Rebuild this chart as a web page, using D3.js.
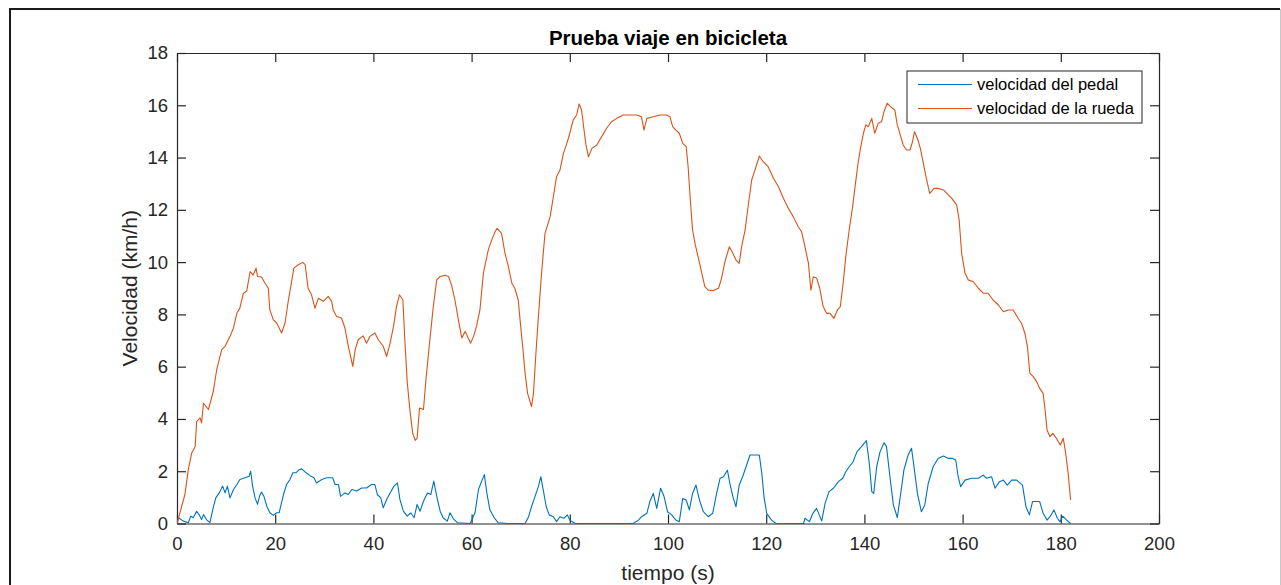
<!DOCTYPE html>
<html>
<head>
<meta charset="utf-8">
<script src="https://cdn.jsdelivr.net/npm/d3@7"></script>
<style>
  body { margin: 0; background: #fff; }
  svg { display: block; font-family: "Liberation Sans", Arial, sans-serif; }
</style>
</head>
<body>
<div id="chart"></div>
<script>
// Prueba viaje en bicicleta: pedal and wheel speed over time

// Series names and colours
const seriesNames = ["velocidad del pedal", "velocidad de la rueda"];
const seriesColors = ["#0072BD", "#D95319"];

// Axis ticks
const xTicks = [0, 20, 40, 60, 80, 100, 120, 140, 160, 180, 200];
const yTicks = [0, 2, 4, 6, 8, 10, 12, 14, 16, 18];

// Wheel speed (km/h): [time s, value]
const rueda = [
  [0, 0], [1.6, 1.1], [2.3, 2.06], [3, 2.7], [3.7, 2.95], [4, 3.9], [4.7, 4.04], [5, 3.85],
  [5.4, 4.6], [6.4, 4.36], [7.4, 5.06], [8.1, 5.9], [9.1, 6.65], [9.8, 6.78], [10.8, 7.16],
  [11.5, 7.48], [12.2, 8.05], [12.8, 8.24], [13.5, 8.8], [14.2, 8.9], [14.9, 9.64], [15.5, 9.5],
  [16.1, 9.77], [16.4, 9.45], [17.2, 9.43], [17.9, 9.2], [18.6, 9.0], [18.9, 8.18], [19.6, 7.8],
  [20.3, 7.67], [21.3, 7.29], [22, 7.67], [22.7, 8.56], [23.4, 9.32], [23.8, 9.77], [24.7, 9.9],
  [25.6, 9.99], [26.1, 9.9], [26.7, 9.0], [27.4, 8.75], [28.1, 8.24], [28.8, 8.62], [29.8, 8.5],
  [30.8, 8.69], [31.5, 8.5], [31.8, 8.18], [32.5, 7.92], [33.5, 7.86], [34.2, 7.48], [34.9, 6.78],
  [35.8, 6.01], [36.3, 6.65], [36.9, 7.03], [37.9, 7.18], [38.6, 6.9], [39.3, 7.16], [40.3, 7.29],
  [41, 7.03], [42, 6.78], [42.7, 6.39], [43.4, 6.9], [44.1, 7.54], [44.7, 8.3], [45.3, 8.75],
  [46, 8.56], [46.4, 7.03], [46.9, 5.38], [47.5, 4.23], [48, 3.46], [48.5, 3.18], [48.9, 3.27],
  [49.4, 4.42], [50.2, 4.36], [50.7, 5.5], [51.5, 7.03], [52.2, 8.3], [52.9, 9.32], [53.6, 9.45],
  [54.6, 9.5], [55.3, 9.45], [55.9, 9.13], [56.6, 8.56], [57.3, 7.8], [58, 7.1], [58.7, 7.35],
  [59.3, 7.1], [59.8, 6.9], [60.4, 7.16], [61, 7.54], [61.7, 8.18], [62.4, 9.58], [63.4, 10.47],
  [64.1, 10.85], [64.8, 11.17], [65.2, 11.29], [66.1, 11.1], [66.8, 10.33], [67.5, 9.83],
  [68.2, 9.19], [68.8, 9.0], [69.5, 8.55], [70, 7.53], [70.4, 6.77], [70.9, 5.74], [71.4, 4.98],
  [71.9, 4.66], [72.2, 4.47], [72.6, 4.98], [73.1, 6.51], [73.6, 7.91], [74.3, 9.7], [74.95, 11.1],
  [76, 11.74], [76.65, 12.5], [77.3, 13.27], [78, 13.52], [78.7, 14.16], [79.4, 14.54], [80, 14.93],
  [80.7, 15.44], [81.4, 15.63], [81.9, 16.05], [82.4, 15.82], [82.9, 15.05], [83.3, 14.48],
  [83.8, 14.03], [84.5, 14.35], [85.5, 14.48], [86.5, 14.8], [87.5, 15.12], [88.5, 15.37],
  [89.55, 15.5], [90.9, 15.63], [92.3, 15.63], [93.6, 15.63], [94.6, 15.56], [95.1, 15.05],
  [95.7, 15.5], [97, 15.56], [98.4, 15.63], [99.7, 15.63], [100.4, 15.56], [100.95, 15.18],
  [101.6, 15.05], [102.3, 14.93], [103, 14.54], [103.7, 14.42], [104.1, 13.65], [104.5, 12.5],
  [105, 11.23], [105.5, 10.72], [106.2, 10.14], [106.9, 9.57], [107.5, 9.06], [108.2, 8.93],
  [109.2, 8.91], [110.3, 9.0], [110.9, 9.38], [111.6, 10.02], [112.1, 10.34], [112.5, 10.59],
  [113.2, 10.34], [113.85, 10.08], [114.5, 9.95], [115, 10.59], [115.7, 11.23], [116.4, 12.25],
  [117.05, 13.14], [117.7, 13.52], [118.6, 14.06], [119.4, 13.84], [120.4, 13.65], [121.5, 13.2],
  [122.5, 12.88], [123.5, 12.44], [124.5, 12.06], [125.5, 11.74], [126.5, 11.36], [127.2, 11.16],
  [127.9, 10.59], [128.6, 9.95], [129.1, 8.93], [129.6, 9.44], [130.3, 9.38], [130.9, 9.0],
  [131.6, 8.3], [132.3, 8.04], [133, 8.04], [133.8, 7.85], [134.5, 8.17], [135.1, 8.3],
  [135.7, 9.25], [136.2, 10.2], [136.9, 11.23], [137.6, 12.12], [138.1, 12.89], [138.7, 13.78],
  [139.2, 14.35], [139.8, 14.93], [140.3, 15.25], [140.8, 15.18], [141.5, 15.5], [142.1, 14.93],
  [142.8, 15.31], [143.5, 15.37], [144, 15.76], [144.65, 16.08], [145.3, 15.95], [146.2, 15.82],
  [146.7, 15.25], [147.4, 14.8], [147.9, 14.48], [148.6, 14.29], [149.3, 14.29], [149.8, 14.61],
  [150.2, 14.99], [150.8, 14.73], [151.4, 14.35], [152, 13.78], [152.7, 13.14], [153.3, 12.63],
  [154.2, 12.82], [155, 12.82], [156.1, 12.76], [157.1, 12.57], [157.8, 12.44], [158.8, 12.18],
  [159.3, 11.61], [159.8, 10.34], [160.5, 9.57], [161.15, 9.32], [162.2, 9.25], [163.2, 9.0],
  [164.2, 8.81], [165.2, 8.81], [166.2, 8.55], [167.3, 8.36], [168.3, 8.1], [169.3, 8.17],
  [170.3, 8.17], [171.3, 7.85], [172, 7.66], [172.7, 7.27], [173.2, 6.77], [173.7, 5.74],
  [174.4, 5.62], [175.1, 5.42], [175.7, 5.17], [176.4, 4.98], [176.8, 4.34], [177.2, 3.58],
  [177.8, 3.32], [178.4, 3.45], [179.1, 3.26], [179.9, 3.0], [180.5, 3.26], [181, 2.68],
  [181.5, 1.92], [182, 0.9]
];

// Pedal speed (km/h): [time s, value]
const pedal = [
  [0, 0], [0.3, 0.22], [1.3, 0.09], [2.3, 0.03], [2.8, 0.28], [3.3, 0.22], [4, 0.47], [4.5, 0.34],
  [5, 0.15], [5.4, 0.34], [6, 0.15], [6.7, 0.03], [7.3, 0.54], [7.9, 0.98], [8.6, 1.17], [9.3, 1.43],
  [9.8, 1.17], [10.25, 1.43], [10.8, 0.98], [11.5, 1.3], [12.2, 1.49], [12.8, 1.68], [13.85, 1.75],
  [14.7, 1.81], [15, 2.0], [15.4, 1.43], [15.9, 0.98], [16.4, 0.73], [16.8, 1.04], [17.2, 1.2],
  [17.7, 1.04], [18.3, 0.66], [18.9, 0.41], [19.6, 0.31], [20.3, 0.41], [20.8, 0.41], [21.7, 1.11],
  [22.3, 1.49], [23, 1.68], [23.6, 1.94], [24.2, 1.94], [24.9, 2.06], [25.4, 2.09], [26.3, 1.94],
  [27.1, 1.83], [27.9, 1.75], [28.4, 1.55], [29.5, 1.68], [30.5, 1.75], [31.7, 1.75], [32.2, 1.49],
  [32.9, 1.49], [33.3, 1.04], [34.2, 1.17], [34.9, 1.11], [35.6, 1.3], [36.6, 1.24], [37.6, 1.36],
  [38.6, 1.36], [39.6, 1.49], [40.3, 1.49], [40.8, 1.11], [41.5, 0.98], [42, 0.6], [42.7, 0.92],
  [43.4, 1.17], [44.2, 1.43], [44.9, 1.55], [45.4, 0.92], [46.1, 0.47], [46.9, 0.28], [47.6, 0.41],
  [48.3, 0.22], [48.9, 0.73], [49.5, 0.47], [50.2, 0.85], [51, 1.17], [51.7, 1.11], [52.3, 1.62],
  [52.9, 1.04], [53.6, 0.47], [54.2, 0.22], [55.05, 0.09], [55.6, 0.41], [56.3, 0.18], [57.1, 0.03],
  [59.7, 0], [60.7, 0.41], [61.4, 1.3], [62.05, 1.62], [62.6, 1.87], [63.1, 1.17], [63.7, 0.54],
  [64.6, 0.22], [65.4, 0.03], [67.5, 0], [70.9, 0], [71.6, 0.26], [72.2, 0.64], [72.9, 1.03],
  [73.6, 1.41], [74.1, 1.79], [74.6, 1.28], [75.2, 0.64], [75.8, 0.33], [76.65, 0.26], [77.3, 0.07],
  [78, 0.26], [78.8, 0.2], [79.5, 0.33], [80, 0.13], [81.1, 0], [92.9, 0], [94, 0.13], [94.6, 0.26],
  [95.7, 0.39], [96.3, 0.84], [97, 1.15], [97.7, 0.58], [98.5, 1.35], [99.2, 1.03], [99.9, 0.45],
  [100.75, 0.33], [101.6, 0.13], [102.3, 0.07], [103, 0.96], [103.7, 0.9], [104.35, 0.52], [105, 1.15],
  [105.7, 1.47], [106.4, 0.9], [107.2, 0.45], [108.2, 0.26], [109.1, 0.39], [109.9, 1.15],
  [110.6, 1.73], [111.3, 1.79], [112.1, 2.04], [112.6, 1.53], [113.3, 0.96], [113.85, 0.64],
  [114.5, 1.47], [115.2, 1.79], [115.9, 2.17], [116.7, 2.62], [117.7, 2.62], [118.6, 2.62],
  [119.1, 1.92], [119.55, 1.03], [120.1, 0.39], [121.1, 0.13], [122, 0], [127.6, 0], [127.9, 0.2],
  [128.8, 0.07], [129.5, 0.39], [130.25, 0.58], [131.3, 0.1], [132, 0.77], [132.8, 1.22],
  [133.7, 1.35], [134.7, 1.6], [135.6, 1.73], [136.2, 1.98], [136.9, 2.17], [137.7, 2.36],
  [138.5, 2.75], [139.4, 2.94], [140.4, 3.17], [141, 2.3], [141.5, 1.22], [141.9, 1.15], [142.5, 2.17],
  [143.2, 2.75], [144, 3.09], [144.5, 2.94], [145.2, 1.79], [145.9, 0.71], [146.7, 0.23], [147.4, 1.15],
  [148.05, 2.05], [148.9, 2.62], [149.6, 2.88], [150.1, 2.17], [150.8, 1.15], [151.6, 0.45],
  [152.3, 0.71], [153, 1.53], [154, 2.17], [155, 2.49], [156.1, 2.58], [157.1, 2.49], [158, 2.49],
  [158.6, 2.43], [159.1, 1.79], [159.6, 1.41], [160.5, 1.66], [161.8, 1.73], [163.2, 1.73],
  [164.2, 1.85], [164.9, 1.73], [165.9, 1.79], [166.6, 1.35], [167.5, 1.6], [168.3, 1.66],
  [169.1, 1.47], [170, 1.66], [171, 1.66], [172.2, 1.47], [172.9, 0.64], [173.6, 0.33], [174.25, 0.84],
  [175.7, 0.84], [176.4, 0.39], [177.2, 0.13], [177.8, 0.26], [178.6, 0.52], [179.3, 0.2],
  [179.8, 0.07], [180.4, 0.28], [181.2, 0.13], [182, 0]
];

// Chart size
const width = 1281, height = 585;
const margin = { top: 53, right: 122, bottom: 61.5, left: 177 };
const innerW = width - margin.left - margin.right;
const innerH = height - margin.top - margin.bottom;

const svg = d3.select("#chart")
  .append("svg")
  .attr("width", width)
  .attr("height", height);

// Figure frame (dark on the left and top, light on the right)
svg.append("line").attr("x1", 10).attr("x2", 10).attr("y1", 9).attr("y2", height)
  .attr("stroke", "#1a1a1a").attr("stroke-width", 2);
svg.append("line").attr("x1", 9).attr("x2", 1280).attr("y1", 9).attr("y2", 9)
  .attr("stroke", "#1a1a1a").attr("stroke-width", 2);
svg.append("line").attr("x1", 1280.5).attr("x2", 1280.5).attr("y1", 9).attr("y2", height)
  .attr("stroke", "#c8c8c8").attr("stroke-width", 1);

const x = d3.scaleLinear().domain([0, 200]).range([0, innerW]);
const y = d3.scaleLinear().domain([0, 18]).range([innerH, 0]);

const g = svg.append("g")
  .attr("transform", `translate(${margin.left}, ${margin.top})`);

const axisColor = "#262626";
const tickLen = 9;

// Axes: ticks point inwards, MATLAB style
const xAxis = g.append("g")
  .attr("transform", `translate(0, ${innerH})`)
  .call(d3.axisBottom(x).tickValues(xTicks).tickSizeInner(-tickLen).tickSizeOuter(0).tickPadding(13));
const xTop = g.append("g")
  .call(d3.axisTop(x).tickValues(xTicks).tickSizeInner(-tickLen).tickSizeOuter(0).tickFormat(""));
const yAxis = g.append("g")
  .call(d3.axisLeft(y).tickValues(yTicks).tickSizeInner(-tickLen).tickSizeOuter(0).tickPadding(9));
const yRight = g.append("g")
  .attr("transform", `translate(${innerW}, 0)`)
  .call(d3.axisRight(y).tickValues(yTicks).tickSizeInner(-tickLen).tickSizeOuter(0).tickFormat(""));

[xAxis, xTop, yAxis, yRight].forEach(a => {
  a.select(".domain").attr("stroke", axisColor).attr("stroke-width", 1.2);
  a.selectAll(".tick line").attr("stroke", axisColor).attr("stroke-width", 1.2);
  a.selectAll(".tick text").attr("fill", axisColor).style("font-size", "18.5px")
    .style("font-family", "'Liberation Sans', Arial, sans-serif");
});

// Lines
const line = d3.line()
  .x(d => x(d[0]))
  .y(d => y(d[1]));

g.append("clipPath").attr("id", "clip")
  .append("rect").attr("width", innerW).attr("height", innerH + 1);

[pedal, rueda].forEach((data, i) => {
  g.append("path")
    .datum(data)
    .attr("clip-path", "url(#clip)")
    .attr("fill", "none")
    .attr("stroke", seriesColors[i])
    .attr("stroke-width", 1.1)
    .attr("stroke-linejoin", "round")
    .attr("d", line);
});

// Title and axis labels
svg.append("text")
  .attr("x", margin.left + innerW / 2)
  .attr("y", 45)
  .attr("text-anchor", "middle")
  .attr("font-weight", "bold")
  .attr("font-size", "20.5px")
  .attr("fill", "#000")
  .text("Prueba viaje en bicicleta");

svg.append("text")
  .attr("x", margin.left + innerW / 2)
  .attr("y", 580)
  .attr("text-anchor", "middle")
  .attr("font-size", "21px")
  .attr("fill", axisColor)
  .text("tiempo (s)");

svg.append("text")
  .attr("transform", `translate(137, ${margin.top + innerH / 2}) rotate(-90)`)
  .attr("text-anchor", "middle")
  .attr("font-size", "21px")
  .attr("fill", axisColor)
  .text("Velocidad (km/h)");

// Legend
const legend = svg.append("g").attr("transform", "translate(907, 71)");
legend.append("rect")
  .attr("width", 235).attr("height", 52)
  .attr("fill", "#fff").attr("stroke", axisColor).attr("stroke-width", 1);
seriesNames.forEach((name, i) => {
  const ly = 13.5 + i * 24;
  legend.append("line")
    .attr("x1", 11).attr("x2", 65).attr("y1", ly).attr("y2", ly)
    .attr("stroke", seriesColors[i]).attr("stroke-width", 1.2);
  legend.append("text")
    .attr("x", 70).attr("y", ly).attr("dy", "0.35em")
    .attr("font-size", "16.5px").attr("fill", "#000")
    .text(name);
});
</script>
</body>
</html>
